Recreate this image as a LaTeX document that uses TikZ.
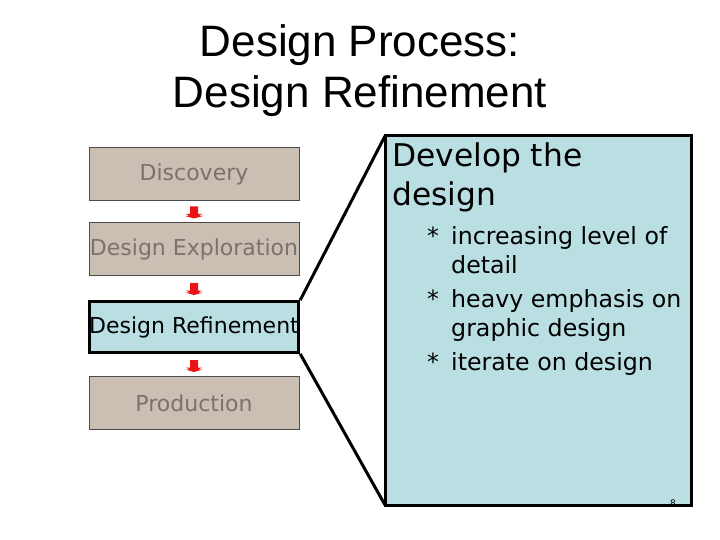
\documentclass[tikz,border=0pt]{standalone}
\usepackage{fontspec}
\setmainfont{DejaVu Sans}
\newfontfamily\titlefont{Liberation Sans}
\usetikzlibrary{calc}
\definecolor{boxgray}{RGB}{203,191,180}
\definecolor{txtgray}{RGB}{122,114,108}
\definecolor{lightblue}{RGB}{186,223,227}
\definecolor{arrred}{RGB}{235,20,20}
\tikzset{
  stage/.style={draw=black!70, line width=0.8pt, fill=boxgray, minimum width=210pt, minimum height=53pt, inner sep=0pt, font=\fontsize{22}{26}\selectfont, text=txtgray},
  current/.style={stage, draw=black, line width=2.8pt, fill=lightblue, text=black, minimum width=208pt, minimum height=51pt},
  detail/.style={draw=black, line width=3pt, fill=lightblue},
  heading/.style={anchor=base west, inner sep=0pt, font=\fontsize{31.3}{36}\selectfont},
  bullet/.style={anchor=base west, inner sep=0pt, font=\fontsize{23.7}{28}\selectfont},
  zoomline/.style={draw=black, line width=3pt},
}
\newcommand{\stagearrow}[2]{%
  \path let \p1=($(#1.south)!0.5!(#2.north)$) in
    [fill=black!75] (\x1-9pt,\y1-4.5pt) -- (\x1+9pt,\y1-4.5pt) -- (\x1,\y1-7pt) -- cycle
    [fill=arrred] (\x1-4pt,\y1+5pt) -- (\x1+4pt,\y1+5pt) -- (\x1+4pt,\y1-2.5pt) -- (\x1+8pt,\y1-2.5pt) -- (\x1,\y1-7pt) -- (\x1-8pt,\y1-2.5pt) -- (\x1-4pt,\y1-2.5pt) -- cycle;}
\begin{document}
\begin{tikzpicture}[x=1pt,y=-1pt]
\useasboundingbox[fill=white] (0,0) rectangle (720,540);
% title
\node[anchor=base, inner sep=0pt, font=\titlefont\fontsize{44}{52}\selectfont] (t1) at (360,57) {Design Process:};
\node[anchor=base, inner sep=0pt, font=\titlefont\fontsize{44}{52}\selectfont] (t2) at (360,108) {Design Refinement};
% stages
\node[stage] (disc) at (194,174) {Discovery};
\node[stage] (expl) at (194,249) {Design Exploration};
\node[stage] (prod) at (194,403) {Production};
% zoom detail
\coordinate (dtl) at (385,136);
\coordinate (dbl) at (385,505);
\path[detail] (dtl) rectangle (691,505);
\node[current] (refi) at (194,327) {Design Refinement};
\draw[zoomline] (refi.north east) -- (dtl);
\draw[zoomline] (refi.south east) -- (dbl);
\stagearrow{disc}{expl}
\stagearrow{expl}{refi}
\stagearrow{refi}{prod}
% detail text
\node[heading] (h1) at (392,167) {Develop the};
\node[heading] (h2) at (392,206) {design};
\node[bullet] (b1a) at (427,244) {*};
\node[bullet] (b1) at (451,244) {increasing level of};
\node[bullet] (b1b) at (451,273) {detail};
\node[bullet] (b2a) at (427,307) {*};
\node[bullet] (b2) at (451,307) {heavy emphasis on};
\node[bullet] (b2b) at (451,336) {graphic design};
\node[bullet] (b3a) at (427,370) {*};
\node[bullet] (b3) at (451,370) {iterate on design};
\node[anchor=base, inner sep=0pt, font=\fontsize{9}{10}\selectfont] (pg) at (673,506) {8};
\end{tikzpicture}
\end{document}
